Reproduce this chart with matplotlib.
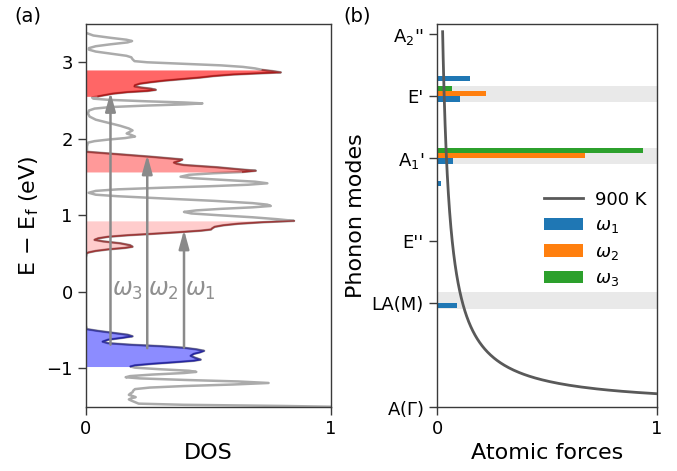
import numpy as np
import matplotlib
matplotlib.use("Agg")
import matplotlib.pyplot as plt

# ---------------- (a) density of states ----------------
dos_energy = [
    3.38, 3.35, 3.32, 3.295, 3.278, 3.26, 3.235, 3.21, 3.185, 3.165, 3.14, 3.11,
    3.085, 3.065, 3.04, 3.015, 3.00, 2.98, 2.96, 2.94, 2.92, 2.90, 2.885, 2.868,
    2.855, 2.84, 2.82, 2.80, 2.78, 2.76, 2.74, 2.72, 2.70, 2.685, 2.67, 2.655,
    2.64, 2.625, 2.61, 2.59, 2.57, 2.555, 2.54, 2.525, 2.51, 2.49, 2.475, 2.463,
    2.45, 2.435, 2.415, 2.395, 2.37, 2.33, 2.29, 2.25, 2.21, 2.17, 2.135, 2.11,
    2.09, 2.07, 2.05, 2.03, 2.01, 1.99, 1.97, 1.95, 1.90, 1.86, 1.83, 1.80,
    1.766, 1.73, 1.71, 1.69, 1.675, 1.658, 1.628, 1.60, 1.583, 1.567, 1.55, 1.53,
    1.505, 1.485, 1.46, 1.44, 1.419, 1.40, 1.38, 1.36, 1.34, 1.32, 1.295, 1.27,
    1.25, 1.22, 1.19, 1.16, 1.14, 1.123, 1.105, 1.085, 1.065, 1.045, 1.025, 1.00,
    0.975, 0.95, 0.928, 0.91, 0.89, 0.87, 0.85, 0.83, 0.815, 0.80, 0.78, 0.76,
    0.74, 0.72, 0.70, 0.68, 0.66, 0.635, 0.61, 0.59, 0.575, 0.555, 0.535, 0.515,
    0.505, 0.45, -0.44, -0.487, -0.51, -0.535, -0.56, -0.58, -0.60, -0.625, -0.65,
    -0.67, -0.69, -0.71, -0.73, -0.75, -0.77, -0.79, -0.81, -0.835, -0.86, -0.885,
    -0.90, -0.92, -0.94, -0.96, -0.975, -0.99, -1.01, -1.03, -1.045, -1.06, -1.08,
    -1.10, -1.115, -1.13, -1.15, -1.17, -1.19, -1.21, -1.23, -1.25, -1.27, -1.29,
    -1.31, -1.33, -1.345, -1.36, -1.375, -1.39, -1.405, -1.42, -1.44, -1.46,
    -1.475, -1.49, -1.50,
]
dos_value = [
    0.004, 0.03, 0.10, 0.165, 0.188, 0.17, 0.10, 0.04, 0.012, 0.012, 0.04, 0.11,
    0.165, 0.185, 0.19, 0.198, 0.25, 0.40, 0.55, 0.64, 0.69, 0.72, 0.76, 0.795,
    0.70, 0.60, 0.52, 0.465, 0.39, 0.32, 0.265, 0.22, 0.20, 0.198, 0.225, 0.265,
    0.285, 0.25, 0.17, 0.11, 0.075, 0.05, 0.025, 0.03, 0.09, 0.25, 0.40, 0.475,
    0.40, 0.25, 0.10, 0.035, 0.012, 0.008, 0.015, 0.04, 0.09, 0.14, 0.175, 0.19,
    0.178, 0.166, 0.185, 0.20, 0.16, 0.09, 0.035, 0.008, 0.004, 0.004, 0.006, 0.128,
    0.264, 0.393, 0.38, 0.359, 0.37, 0.40, 0.536, 0.63, 0.693, 0.64, 0.52, 0.42,
    0.386, 0.44, 0.58, 0.69, 0.74, 0.66, 0.50, 0.30, 0.13, 0.04, 0.011, 0.04,
    0.13, 0.32, 0.52, 0.68, 0.74, 0.754, 0.68, 0.55, 0.45, 0.40, 0.43, 0.55,
    0.68, 0.78, 0.849, 0.72, 0.62, 0.56, 0.525, 0.515, 0.51, 0.47, 0.38, 0.28,
    0.17, 0.09, 0.05, 0.035, 0.07, 0.14, 0.18, 0.19, 0.16, 0.09, 0.04, 0.01,
    0.004, 0.0, 0.0, 0.004, 0.05, 0.11, 0.17, 0.19, 0.15, 0.09, 0.068,
    0.09, 0.18, 0.31, 0.40, 0.45, 0.482, 0.465, 0.44, 0.427, 0.445, 0.468,
    0.44, 0.36, 0.27, 0.20, 0.182, 0.20, 0.30, 0.42, 0.45, 0.40, 0.27,
    0.18, 0.162, 0.22, 0.40, 0.62, 0.745, 0.60, 0.40, 0.26, 0.20, 0.193,
    0.19, 0.18, 0.175, 0.19, 0.203, 0.185, 0.175, 0.185, 0.20, 0.215,
    0.40, 0.80, 1.0,
]

# highlighted energy windows: (low, high, face colour, alpha, edge colour)
band_windows = [
    (2.555, 2.90, "red", 0.6, "darkred"),
    (1.567, 1.83, "red", 0.4, "darkred"),
    (0.505, 0.928, "red", 0.2, "darkred"),
    (-0.975, -0.487, "blue", 0.45, "navy"),
]

# optical transitions: x position, start energy, end energy, label
transition_x = [0.40, 0.25, 0.10]
transition_start = [-0.727, -0.735, -0.69]
transition_end = [0.81, 1.79, 2.607]
transition_label = [r"$\omega_1$", r"$\omega_2$", r"$\omega_3$"]

# ---------------- (b) phonon modes ----------------
mode_freq = [104, 166, 226, 248.4, 289, 310.4, 331, 372.4]   # cm^-1
omega1_force = [0.091, 0.0, 0.018, 0.072, 0.004, 0.105, 0.152, 0.0]
omega2_force = [0.0, 0.0, 0.0, 0.674, 0.0, 0.224, 0.0, 0.0]
omega3_force = [0.003, 0.0, 0.003, 0.936, 0.0, 0.067, 0.004, 0.0]

tick_freq = [0, 104, 166, 248.4, 310.4, 372.4]
tick_names = [r"A($\Gamma$)", "LA(M)", "E''", r"A$_1$'", "E'", r"A$_2$''"]
highlight_freq = [104, 248.4, 310.4]

temperature = 900.0       # K
omega_min, omega_max = 13.0, 375.0

plt.rcParams["font.family"] = ["DejaVu Sans"]
fig = plt.figure(figsize=(6.77, 4.71), dpi=100)
ax_a = fig.add_axes([0.127, 0.1365, 0.362, 0.8125])
ax_b = fig.add_axes([0.6455, 0.1365, 0.3245, 0.8125])

spine_col = "#3a3a3a"
for ax in (ax_a, ax_b):
    for s in ax.spines.values():
        s.set_color(spine_col)
        s.set_linewidth(1.0)
    ax.tick_params(labelsize=13, length=6, width=1.0, color=spine_col)

# ---- panel (a)
E = np.array(dos_energy)
D = np.array(dos_value)
ax_a.plot(D, E, color="#ababab", lw=1.8, zorder=1.5)
for lo, hi, fc, al, ec in band_windows:
    m = (E >= lo - 1e-9) & (E <= hi + 1e-9)
    ax_a.fill_betweenx(E[m], 0, D[m], color=fc, alpha=al, lw=0, zorder=1.6)
    ax_a.plot(D[m], E[m], color=ec, alpha=0.6, lw=1.2, zorder=1.7)

for x, y0, y1, lab in zip(transition_x, transition_start, transition_end, transition_label):
    ax_a.annotate("", xy=(x, y1), xytext=(x, y0),
                  arrowprops=dict(arrowstyle="-|>,head_length=0.8,head_width=0.22",
                                  color="#8a8a8a", lw=1.8, mutation_scale=14,
                                  shrinkA=0, shrinkB=0), zorder=3)
    ax_a.text(x + 0.005, 0.02, lab, color="#8f8f8f", fontsize=17,
              ha="left", va="center", zorder=3)

ax_a.set_xlim(0, 1)
ax_a.set_ylim(-1.5, 3.5)
ax_a.set_xticks([0, 1])
ax_a.set_yticks([-1, 0, 1, 2, 3])
ax_a.set_xlabel("DOS", fontsize=16)
ax_a.set_ylabel(r"E $-$ E$_\mathregular{f}$ (eV)", fontsize=16)
fig.text(0.021, 0.965, "(a)", fontsize=14, va="center", ha="left")

# ---- panel (b)
bar_h = 5.3
f = np.array(mode_freq)
for fc in highlight_freq:
    ax_b.axhspan(fc - 5.8, fc + 10.6, color="#e9e9e9", lw=0, zorder=0.5)
ax_b.barh(f - bar_h, omega1_force, height=bar_h, align="edge",
          color="#1f77b4", label=r"$\omega_1$", zorder=2)
ax_b.barh(f, omega2_force, height=bar_h, align="edge",
          color="#ff7f0e", label=r"$\omega_2$", zorder=2)
ax_b.barh(f + bar_h, omega3_force, height=bar_h, align="edge",
          color="#2ca02c", label=r"$\omega_3$", zorder=2)

# Bose-Einstein occupation at 900 K, normalised to the lowest frequency
kT_cm = 0.69503 * temperature
w = np.linspace(omega_min, omega_max, 600)
occ = 1.0 / (np.exp(w / kT_cm) - 1.0)
occ = occ / occ[0]
ax_b.plot(occ, w, color="#595959", lw=2.0, label="900 K", zorder=3)

ax_b.set_xlim(0, 1)
ax_b.set_ylim(0, 382.7)
ax_b.set_xticks([0, 1])
ax_b.set_yticks(tick_freq)
ax_b.set_yticklabels(tick_names)
ax_b.set_xlabel("Atomic forces", fontsize=16)
ax_b.set_ylabel("Phonon modes", fontsize=16)
fig.text(0.507, 0.965, "(b)", fontsize=14, va="center", ha="left")

h, l = ax_b.get_legend_handles_labels()
order = [l.index("900 K"), l.index(r"$\omega_1$"), l.index(r"$\omega_2$"), l.index(r"$\omega_3$")]
ax_b.legend([h[i] for i in order], [l[i] for i in order], loc="center right",
            bbox_to_anchor=(1.0, 0.437), frameon=False, fontsize=13,
            handlelength=2.15, handleheight=0.7, labelspacing=0.42,
            handletextpad=0.7, borderaxespad=0.15)

fig.savefig("out.png", dpi=100)
